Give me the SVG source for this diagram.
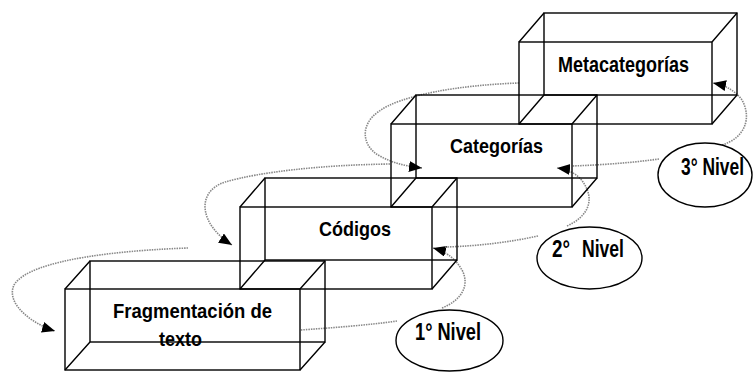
<svg xmlns="http://www.w3.org/2000/svg" width="755" height="372" viewBox="0 0 755 372">
<defs>
<marker id="arr" markerUnits="userSpaceOnUse" markerWidth="14" markerHeight="12" refX="13" refY="5.5" orient="auto">
<path d="M0,0 L13,5.5 L0,11 z" fill="#000"/>
</marker>
<style>
.b{fill:none;stroke:#000;stroke-width:1.4}
.c{fill:none;stroke:#888;stroke-width:1.6;stroke-dasharray:1.5 1}
.e{fill:#fff;stroke:#000;stroke-width:1.4}
.t{font-family:"Liberation Sans Narrow","Liberation Sans",Arial,sans-serif;font-weight:bold;fill:#000}
</style>
</defs>
<rect width="755" height="372" fill="#fff"/>
<g id="connectors">
<path class="c" d="M188,248 C130,250 30,258 14,285 C5,305 35,325 55,331" marker-end="url(#arr)"/>
<path class="c" d="M390,164 C320,165 260,172 225,182 C195,192 200,225 232,245" marker-end="url(#arr)"/>
<path class="c" d="M519,83 C460,85 400,95 378,112 C360,125 362,145 378,155 C392,163 405,166 422,168" marker-end="url(#arr)"/>
<path class="c" d="M397,321 C370,325 330,328 300,330"/>
<path class="c" d="M442,308 C462,300 470,285 462,270 C456,260 448,252 433,248" marker-end="url(#arr)"/>
<path class="c" d="M538,236 C510,242 480,246 445,247"/>
<path class="c" d="M567,226 C585,218 592,205 588,192 C584,180 575,170 557,168" marker-end="url(#arr)"/>
<path class="c" d="M659,159 C630,163 600,165 572,166"/>
<path class="c" d="M722,145 C745,138 752,118 742,100 C736,92 728,86 713,83" marker-end="url(#arr)"/>
</g>
<g id="box1">
<rect class="b" x="65" y="289" width="235" height="81"/>
<rect class="b" x="90" y="261" width="235" height="81"/>
<path class="b" d="M65,289 L90,261 M300,289 L325,261 M65,370 L90,342 M300,370 L325,342"/>
<text class="t" x="113" y="318" font-size="21" textLength="159" lengthAdjust="spacingAndGlyphs">Fragmentación de</text>
<text class="t" x="159" y="346" font-size="21" textLength="43" lengthAdjust="spacingAndGlyphs">texto</text>
</g>
<g id="box2">
<rect class="b" x="240" y="207" width="192" height="82"/>
<rect class="b" x="265" y="178" width="192" height="82"/>
<path class="b" d="M240,207 L265,178 M432,207 L457,178 M240,289 L265,260 M432,289 L457,260"/>
<text class="t" x="319" y="236" font-size="21" textLength="72" lengthAdjust="spacingAndGlyphs">Códigos</text>
</g>
<g id="box3">
<rect class="b" x="391" y="124" width="181" height="83"/>
<rect class="b" x="416" y="95" width="181" height="83"/>
<path class="b" d="M391,124 L416,95 M572,124 L597,95 M391,207 L416,178 M572,207 L597,178"/>
<text class="t" x="450" y="153" font-size="21" textLength="93" lengthAdjust="spacingAndGlyphs">Categorías</text>
</g>
<g id="box4">
<rect class="b" x="519" y="42" width="193" height="82"/>
<rect class="b" x="544" y="13" width="193" height="82"/>
<path class="b" d="M519,42 L544,13 M712,42 L737,13 M519,124 L544,95 M712,124 L737,95"/>
<text class="t" x="558" y="72" font-size="22" textLength="131" lengthAdjust="spacingAndGlyphs">Metacategorías</text>
</g>
<g id="nivel1">
<ellipse class="e" cx="449.5" cy="340.5" rx="53.5" ry="30.5"/>
<text class="t" x="415" y="340" font-size="23" textLength="66" lengthAdjust="spacingAndGlyphs">1° Nivel</text>
</g>
<g id="nivel2">
<ellipse class="e" cx="589.5" cy="258" rx="52.5" ry="31"/>
<text class="t" font-size="23"><tspan x="552" y="257" textLength="18" lengthAdjust="spacingAndGlyphs">2°</tspan> <tspan x="582" y="257" textLength="42" lengthAdjust="spacingAndGlyphs">Nivel</tspan></text>
</g>
<g id="nivel3">
<ellipse class="e" cx="705" cy="175" rx="47" ry="32"/>
<text class="t" x="744" y="175" font-size="23" text-anchor="end" textLength="63" lengthAdjust="spacingAndGlyphs">3° Nivel</text>
</g>
</svg>
